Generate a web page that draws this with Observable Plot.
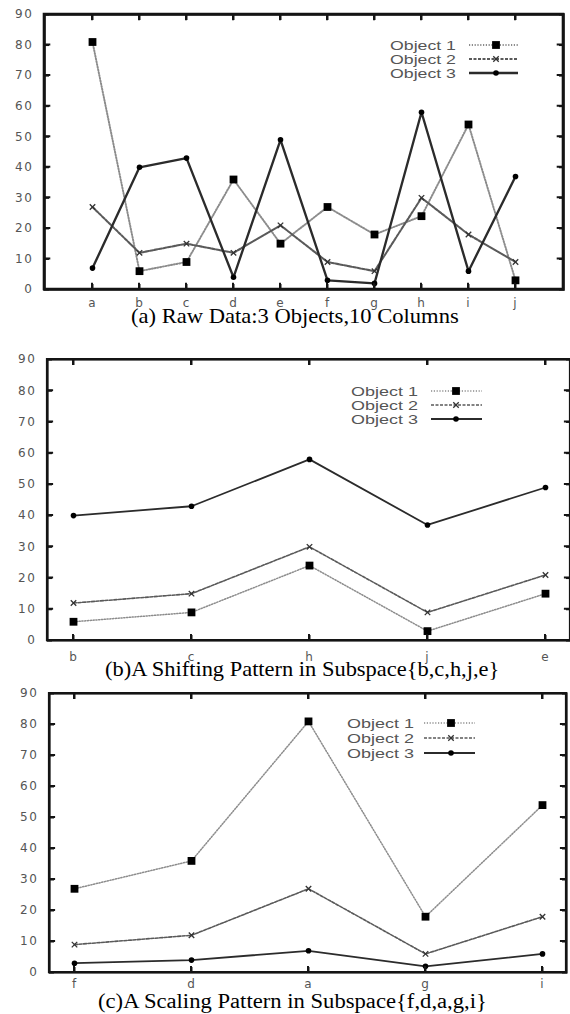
<!DOCTYPE html>
<html><head><meta charset="utf-8">
<script src="https://cdn.jsdelivr.net/npm/d3@7"></script>
<script src="https://cdn.jsdelivr.net/npm/@observablehq/plot@0.6"></script>
<style>
html,body{margin:0;padding:0;background:#fff}
#wrap{width:570px}
#wrap > svg{display:block}
#wrap g[aria-label="y-axis tick label"] text{letter-spacing:1.6px}
#wrap g[aria-label="x-axis tick label"] text{letter-spacing:1px}
</style>
</head><body><div id="wrap"></div>
<script>
// ---- data ----
const columns = ["a","b","c","d","e","f","g","h","i","j"];
const seriesNames = ["Object 1","Object 2","Object 3"];
const object1 = [81, 6, 9, 36, 15, 27, 18, 24, 54, 3];
const object2 = [27, 12, 15, 12, 21, 9, 6, 30, 18, 9];
const object3 = [7, 40, 43, 4, 49, 3, 2, 58, 6, 37];
const subspaceShift = ["b","c","h","j","e"];
const subspaceScale = ["f","d","a","g","i"];
const yTicks = [0,10,20,30,40,50,60,70,80,90];
const captions = [
  "(a) Raw Data:3 Objects,10 Columns",
  "(b)A Shifting Pattern in Subspace{b,c,h,j,e}",
  "(c)A Scaling Pattern in Subspace{f,d,a,g,i}"
];

const seriesValues = [object1, object2, object3];
const table = seriesNames.flatMap((name, s) =>
  columns.map((col, i) => ({obj: name, col, value: seriesValues[s][i]})));

// ---- styles ----
const styles = [
  {stroke:"#8c8c8c", dash:"1.2,1.6", width:1.5, symbol:"square", r:4.4, fill:"#000", mstroke:"none"},
  {stroke:"#5a5a5a", dash:"3,1.5", width:1.6, symbol:"times", r:2.6, fill:"none", mstroke:"#333"},
  {stroke:"#2b2b2b", dash:null, width:1.8, symbol:"circle", r:2.8, fill:"#000", mstroke:"none"}
];
const tickFont = {fontSize: 12, fontFamily: "'DejaVu Sans', 'Liberation Sans', sans-serif", fill: "#555"};
const INK = "#141414";
const legendFont = {size: 12.5, family: "'Liberation Sans', Arial, sans-serif"};
const captionFont = {size: 20, family: "'Liberation Serif', 'Times New Roman', serif"};

const panels = [
  {cols: columns, top: 0, width: 570, ml: 44, mr: 7, mt: 14, inner: 275, mb: 41, pad: 1, lw: 1.3, frame: 2.6, xpad: 9,
   legend: {textRight: 456, textWidth: 66, rows: [45, 59, 73], x1: 469, x2: 518, xm: 496},
   caption: {x: 131, w: 328, y: 323}},
  {cols: subspaceShift, top: 330, width: 570, ml: 47, mr: 0, mt: 29, inner: 281, mb: 45, pad: 0.2, lw: 1, frame: 2.2, xpad: 12,
   legend: {textRight: 418, textWidth: 67, rows: [391, 405, 419], x1: 431, x2: 482, xm: 456},
   caption: {x: 105, w: 396, y: 676}},
  {cols: subspaceScale, top: 685, width: 570, ml: 49, mr: 4, mt: 8, inner: 279, mb: 42, pad: 0.2, lw: 1, frame: 2.2, xpad: 7,
   legend: {textRight: 414, textWidth: 67, rows: [723, 738, 753], x1: 424, x2: 475, xm: 451},
   caption: {x: 98, w: 390, y: 1008}}
];

const wrap = document.getElementById("wrap");
const blank = () => "";
const symMap = {square: d3.symbolSquare, times: d3.symbolTimes, circle: d3.symbolCircle};
const ctx = document.createElement("canvas").getContext("2d");
function measure(text, f) { ctx.font = `${f.size}px ${f.family}`; return ctx.measureText(text).width || 1; }
// horizontally stretched text (the reference is stretched sideways)
function stretchedText(g, text, x, y, w, f, fill) {
  const k = w / measure(text, f);
  g.append("text").attr("transform", `translate(${x},${y}) scale(${k.toFixed(3)},1)`)
    .attr("text-anchor", "start").attr("font-family", f.family).attr("font-size", f.size)
    .attr("fill", fill).text(text);
}

panels.forEach((p, pi) => {
  const rows = p.cols.flatMap(c => table.filter(d => d.col === c));
  const marks = [];
  seriesNames.forEach((name, i) => {
    const s = styles[i];
    marks.push(Plot.line(rows.filter(d => d.obj === name), {x: "col", y: "value", stroke: s.stroke,
      strokeWidth: s.width * p.lw, strokeDasharray: s.dash, strokeLinejoin: "round"}));
  });
  seriesNames.forEach((name, i) => {
    const s = styles[i];
    marks.push(Plot.dot(rows.filter(d => d.obj === name), {x: "col", y: "value", symbol: s.symbol,
      r: s.r, fill: s.fill, stroke: s.mstroke, strokeWidth: 1.3}));
  });
  marks.push(Plot.axisY({anchor: "left", ticks: yTicks, tickSize: 0, tickPadding: 11, label: null, ...tickFont}));
  marks.push(Plot.axisY({anchor: "left", ticks: yTicks, tickSize: -5, tickFormat: blank, label: null, stroke: INK, strokeWidth: 2}));
  marks.push(Plot.axisY({anchor: "right", ticks: yTicks, tickSize: -5, tickFormat: blank, label: null, stroke: INK, strokeWidth: 2}));
  marks.push(Plot.axisX({anchor: "bottom", tickSize: 0, tickPadding: p.xpad, label: null, ...tickFont}));
  marks.push(Plot.axisX({anchor: "bottom", tickSize: -5, tickFormat: blank, label: null, stroke: INK, strokeWidth: 2}));
  marks.push(Plot.axisX({anchor: "top", tickSize: -5, tickFormat: blank, label: null, stroke: INK, strokeWidth: 2}));
  marks.push(Plot.frame({stroke: INK, strokeWidth: p.frame}));

  const svg = Plot.plot({
    width: p.width,
    height: p.mt + p.inner + p.mb,
    marginLeft: p.ml, marginRight: p.mr, marginTop: p.mt, marginBottom: p.mb,
    x: {type: "point", domain: p.cols, padding: p.pad},
    y: {domain: [0, 90]},
    marks
  });
  wrap.appendChild(svg);

  // border and inward ticks as filled shapes, placed with Plot's own scales
  const sx = svg.scale("x"), sy = svg.scale("y");
  const xl = p.ml, xr = p.width - p.mr;
  const [yb, yt] = sy.range;
  const fw = p.frame, h = fw / 2;
  const path = d3.path();
  path.rect(xl - h, yt - h, xr - xl + fw, yb - yt + fw);
  path.rect(xl + h, yt + h, xr - xl - fw, yb - yt - fw);
  d3.select(svg).append("path").attr("d", path.toString()).attr("fill", INK).attr("fill-rule", "evenodd");
  const tp = d3.path();
  yTicks.forEach(v => {
    const y = sy.apply(v);
    tp.rect(xl, y - 1, 5 + h, 2);
    tp.rect(xr - 5 - h, y - 1, 5 + h, 2);
  });
  p.cols.forEach(c => {
    const x = sx.apply(c);
    tp.rect(x - 1, yb - 5 - h, 2, 5 + h);
    tp.rect(x - 1, yt, 2, 5 + h);
  });
  d3.select(svg).append("path").attr("d", tp.toString()).attr("fill", INK);

  // legend + caption (page coords shifted by panel top)
  const g = d3.select(svg).append("g").attr("transform", `translate(0,${-p.top})`);
  const L = p.legend;
  seriesNames.forEach((name, i) => {
    const s = styles[i], y = L.rows[i];
    stretchedText(g, name, L.textRight - L.textWidth, y + 4.5, L.textWidth, legendFont, "#555");
    g.append("line").attr("x1", L.x1).attr("x2", L.x2).attr("y1", y).attr("y2", y)
      .attr("stroke", s.stroke).attr("stroke-width", s.width * p.lw)
      .attr("stroke-dasharray", s.dash);
    g.append("path")
      .attr("d", d3.symbol(symMap[s.symbol], s.r * s.r * Math.PI)())
      .attr("transform", `translate(${L.xm},${y})`)
      .attr("fill", s.fill).attr("stroke", s.mstroke).attr("stroke-width", 1.3);
  });
  stretchedText(g, captions[pi], p.caption.x, p.caption.y, p.caption.w, captionFont, "#000");
});
</script>
</body></html>
